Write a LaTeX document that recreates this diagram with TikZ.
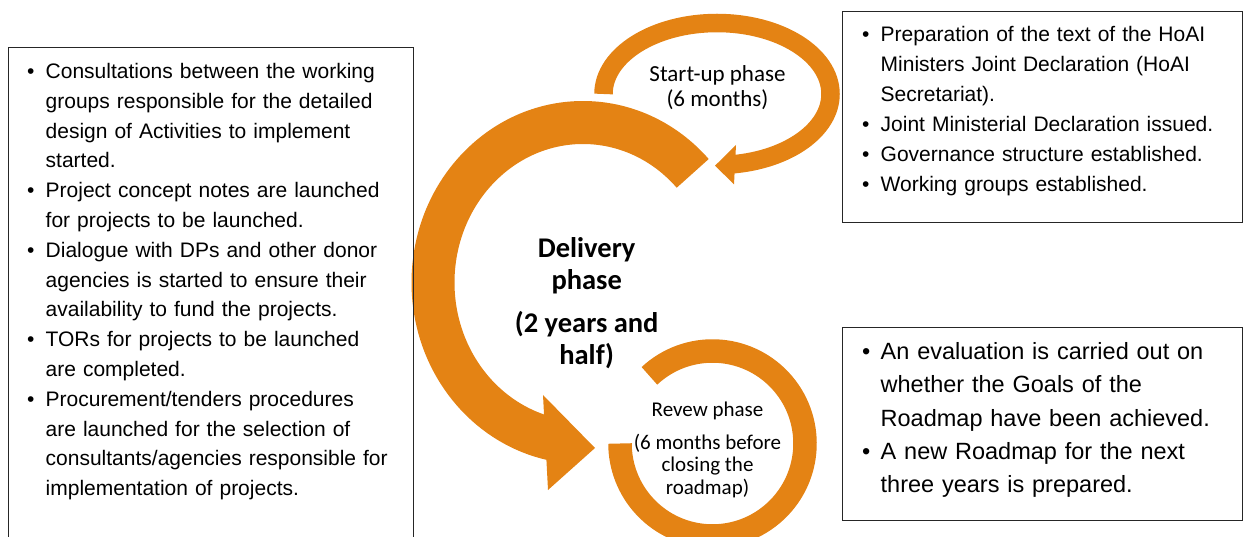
\documentclass[tikz,border=0pt]{standalone}
\usepackage{fontspec}
\setmainfont{Liberation Sans}
\newfontfamily\phasefont{Carlito}

\definecolor{phaseorange}{RGB}{228,131,20}

% one bullet line of a note box, later lines hang under the text
\newcommand{\bitem}[1]{\hangindent=18.5pt\hangafter=1\noindent\makebox[18.5pt][l]{\rule{0pt}{0.8em}\textbullet}#1\par}

\tikzset{
    notebox/.style={draw=black!85, line width=0.9pt},
    notes/.style={anchor=north west, inner sep=0pt, text width=380pt, align=left},
    phasearc/.style={draw=phaseorange},
    phaselabel/.style={anchor=north, inner sep=0pt, align=center}
}

\begin{document}
\begin{tikzpicture}[x=1pt, y=1pt]
    \useasboundingbox (0,0) rectangle (1243,536);

    \coordinate (deliverc) at (583,253.5);
    \coordinate (startc) at (717,442);
    \coordinate (reviewc) at (712.5,92.5);

    % the three phase arrows
    \draw[phasearc, line width=43pt] ([shift={(43:150pt and 160pt)}]deliverc) arc[start angle=43, end angle=258, x radius=150pt, y radius=160pt];
    \fill[phaseorange] (543,141) -- (595,88) -- (548,46) -- cycle;

    \draw[phasearc, line width=18.5pt] ([shift={(180:113.5pt and 71pt)}]startc) arc[start angle=180, end angle=-82, x radius=113.5pt, y radius=71pt];
    \fill[phaseorange] (736,391) -- (715,370.3) -- (734,351.7) -- cycle;

    \draw[phasearc, line width=23.5pt] ([shift={(133:92.5pt)}]reviewc) arc[start angle=133, end angle=-180, radius=92.5pt];

    \node[phaselabel, font=\phasefont\fontsize{23}{25}\selectfont] (startlabel) at (717.5,472.7) {\rule{0pt}{0.8em}Start-up phase\\(6 months)};
    \node[phaselabel, font=\phasefont\bfseries\fontsize{28.5}{32}\selectfont] (deliverylabel) at (586.7,301.5) {\rule{0pt}{0.8em}Delivery\\phase\\[11.5pt](2 years and\\half)};
    \node[phaselabel, font=\phasefont\fontsize{21}{22.4}\selectfont] (reviewlabel) at (707.5,136.1) {\rule{0pt}{0.8em}Revew phase\\[10.2pt](6 months before\\closing the\\roadmap)};

    % note boxes
    \draw[notebox] (8,-10) -- (8,489) -- (413,489) -- (413,-10);
    \draw[notebox] (842,314) rectangle (1242,525);
    \draw[notebox] (842,16) rectangle (1242,209);

    \node[notes, font=\fontsize{21}{29.8}\selectfont] (deliverynotes) at (27,474.5) {%
        \bitem{Consultations between the working\newline groups responsible for the detailed\newline design of Activities to implement\newline started.}
        \bitem{Project concept notes are launched\newline for projects to be launched.}
        \bitem{Dialogue with DPs and other donor\newline agencies is started to ensure their\newline availability to fund the projects.}
        \bitem{TORs for projects to be launched\newline are completed.}
        \bitem{Procurement/tenders procedures\newline are launched for the selection of\newline consultants/agencies responsible for\newline implementation of projects.}};

    \node[notes, font=\fontsize{21}{30}\selectfont] (startnotes) at (862,511.1) {%
        \bitem{Preparation of the text of the HoAI\newline Ministers Joint Declaration (HoAI\newline Secretariat).}
        \bitem{Joint Ministerial Declaration issued.}
        \bitem{Governance structure established.}
        \bitem{Working groups established.}};

    \node[notes, font=\fontsize{23.5}{33.2}\selectfont] (reviewnotes) at (862,195.3) {%
        \bitem{An evaluation is carried out on\newline whether the Goals of the\newline Roadmap have been achieved.}
        \bitem{A new Roadmap for the next\newline three years is prepared.}};
\end{tikzpicture}
\end{document}
